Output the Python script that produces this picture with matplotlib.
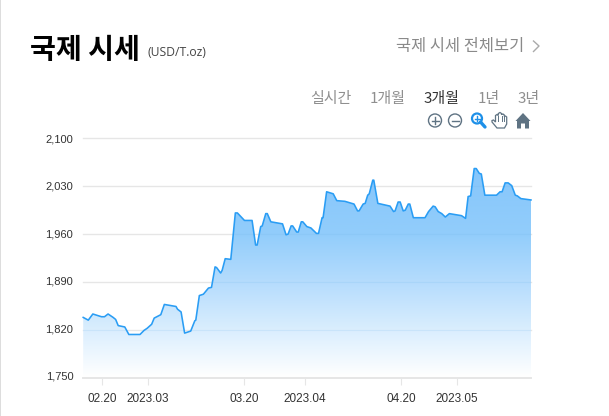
#!/usr/bin/env python3
"""International gold price, 3 month view."""
import matplotlib
matplotlib.use("Agg")
import matplotlib.pyplot as plt
import numpy as np
from matplotlib.colors import LinearSegmentedColormap
from matplotlib.patches import Circle, Polygon, Rectangle
from matplotlib.transforms import ScaledTranslation

plt.rcParams["font.family"] = ["Noto Sans CJK KR", "DejaVu Sans"]

W, H = 609, 416
KR = ["Noto Sans CJK KR", "DejaVu Sans"]

# days counted from 02.20
days = [-3.7, -2.7, -1.8, -0.1, 0.5, 1.2, 2.2, 2.7, 3.2, 4.5, 5.3, 7.5, 8.3, 8.9, 9.8, 10.3,
        11.6, 12.3, 14.6, 14.9, 15.6, 16.3, 17.5, 18.3, 18.5, 19.2, 20, 21, 21.6, 22.3, 22.6,
        23.4, 23.7, 24.3, 25.4, 26.3, 26.7, 28.1, 29.6, 30.3, 30.6, 31.3, 31.6, 32.3, 32.6,
        33.3, 35.6, 36.3, 36.7, 37.3, 37.6, 38.4, 38.7, 39.3, 39.6, 40.4, 41.2, 42.3, 42.7,
        43.4, 43.6, 44.3, 45.6, 46.3, 47.9, 49.7, 50.4, 50.7, 51.5, 51.9, 52.4, 52.7, 53.4,
        53.6, 54.4, 56.8, 57.5, 57.8, 58.4, 58.8, 59.4, 59.8, 60.4, 60.7, 61.4, 63.7, 64.4,
        65.3, 65.7, 66.3, 67, 67.7, 68.5, 70.9, 71.7, 72.2, 72.7, 73.4, 73.8, 74.4, 74.8,
        75.5, 77.8, 78.5, 78.9, 79.5, 80.1, 80.8, 81.5, 81.9, 82.6, 84.6]
prices = [1838, 1834, 1843, 1839, 1839, 1843, 1838, 1835, 1826, 1824, 1813, 1813, 1819, 1822, 1828, 1837,
          1842, 1857, 1854, 1850, 1846, 1815, 1818, 1833, 1834, 1870, 1872, 1881, 1882, 1912, 1911,
          1903, 1907, 1924, 1923, 1991, 1991, 1980, 1980, 1944, 1944, 1971, 1972, 1990, 1990,
          1978, 1975, 1959, 1960, 1972, 1972, 1963, 1963, 1978, 1978, 1971, 1969, 1961, 1961,
          1984, 1984, 2022, 2019, 2009, 2008, 2004, 1994, 1994, 2004, 2005, 2017, 2019, 2039,
          2039, 2005, 2001, 1993, 1994, 2007, 2007, 1994, 1995, 2004, 2004, 1984, 1984, 1993,
          2001, 2000, 1993, 1990, 1985, 1990, 1987, 1983, 2015, 2016, 2056, 2056, 2049, 2048,
          2017, 2017, 2022, 2022, 2035, 2035, 2031, 2017, 2016, 2012, 2010]

y_ticks = [1750, 1820, 1890, 1960, 2030, 2100]
y_labels = ["1,750", "1,820", "1,890", "1,960", "2,030", "2,100"]
x_ticks = [0, 9, 28, 40, 59, 70]
x_labels = ["02.20", "2023.03", "03.20", "2023.04", "04.20", "2023.05"]

periods = ["실시간", "1개월", "3개월", "1년", "3년"]
period_x = [331, 387.5, 441.5, 489, 529]


def main():
    fig = plt.figure(figsize=(W / 100, H / 100), dpi=100, facecolor="white")
    ax = fig.add_axes([83 / W, 1 - 377.5 / H, 448 / W, 239 / H])

    # area with vertical gradient, clipped to the price curve
    cmap = LinearSegmentedColormap.from_list(
        "area", [(0, "#ffffff"), (0.225, "#daeefe"), (0.455, "#b5dcfd"), (0.685, "#92cdfb"), (1, "#86c6fb")])
    grad = np.linspace(0, 1, 256).reshape(-1, 1)
    im = ax.imshow(grad, extent=[days[0], days[-1], 1750, max(prices)], origin="lower",
                   aspect="auto", cmap=cmap, zorder=2)
    clip = Polygon(np.c_[days + [days[-1], days[0]], prices + [1750, 1750]],
                   closed=True, transform=ax.transData)
    im.set_clip_path(clip)
    ax.set_xlim(-3.74, 84.6)
    ax.set_ylim(1750, 2100)

    ax.plot(days, prices, color="#2a9df4", lw=1.15, zorder=4, clip_on=False, solid_joinstyle="round")

    # gridlines show faintly through the fill
    for v in y_ticks[1:]:
        ax.axhline(v, color="#e6e6e6", lw=1.0, zorder=1, clip_on=False)
        over = ax.axhline(v, color="#6aaee6", lw=0.8, alpha=0.15, zorder=3)
        over.set_clip_path(clip)

    for s in ["top", "left", "right"]:
        ax.spines[s].set_visible(False)
    ax.spines["bottom"].set_color("#e6e6e6")
    ax.spines["bottom"].set_linewidth(1.4)

    ax.set_yticks(y_ticks, y_labels)
    ax.set_xticks(x_ticks, x_labels)
    ax.tick_params(axis="y", length=0, pad=7, labelsize=8, labelcolor="#333333")
    ax.tick_params(axis="x", length=5, width=0.8, color="#e6e6e6", pad=6, labelsize=8.5, labelcolor="#333333")
    for t in ax.get_xticklabels() + ax.get_yticklabels():
        t.set_family("Liberation Sans")
    # the y labels drift up a little towards the bottom of the axis
    for i, t in enumerate(ax.get_yticklabels()):
        shift = (5 - i) * 2.0 / 5 / 100
        t.set_transform(t.get_transform() + ScaledTranslation(0, shift, fig.dpi_scale_trans))

    # overlay in pixel units for header text and toolbar icons
    ov = fig.add_axes([0, 0, 1, 1], zorder=5)
    ov.set_xlim(0, W)
    ov.set_ylim(H, 0)
    ov.axis("off")
    ov.patch.set_alpha(0)

    ov.add_patch(Rectangle((0, 0), 1, H, color="#dddddd", lw=0))
    ov.text(29.5, 50, "국제 시세", fontsize=20.3, fontweight="bold", color="black",
            family=KR, va="center", ha="left")
    ov.text(148, 53, "(USD/T.oz)", fontsize=8.7, color="#444444", family="Open Sans", va="center", ha="left")
    ov.text(524, 46.5, "국제 시세 전체보기", fontsize=11.8, color="#8a8a8a", family=KR, va="center", ha="right")
    ov.plot([533.5, 539, 533.5], [41, 46, 51.5], color="#aaaaaa", lw=1.0)

    for label, x in zip(periods, period_x):
        active = label == "3개월"
        ov.text(x, 98.5, label, fontsize=10.8, color="#333333" if active else "#8f8f8f",
                family=KR, va="center", ha="center")

    # toolbar icons
    grey = "#5f7383"
    for cx, sign in [(435, "+"), (455, "-")]:
        ov.add_patch(Circle((cx, 120.5), 6.5, fill=False, ec=grey, lw=1.0))
        ov.plot([cx - 3.5, cx + 3.5], [120.5, 120.5], color=grey, lw=1.0)
        if sign == "+":
            ov.plot([cx, cx], [117, 124], color=grey, lw=1.0)
    blue = "#1e90e8"
    ov.add_patch(Circle((477, 118.5), 5, fill=False, ec=blue, lw=1.6))
    ov.plot([480.5, 485], [122, 127], color=blue, lw=2.4, solid_capstyle="round")
    ov.plot([474.5, 479.5], [118.5, 118.5], color=blue, lw=1.0)
    ov.plot([477, 477], [116, 121], color=blue, lw=1.0)
    hand = [[492, 120.5], [493.5, 120], [495.5, 122], [495.5, 115.5], [497, 114.5], [498.3, 115.5], [498.3, 113.5],
            [500, 112.5], [501.5, 113.5], [501.5, 114.5], [503, 114], [504.3, 115], [504.3, 116.5], [505.5, 116],
            [506.7, 117], [506.7, 124], [504.5, 128], [497, 128], [492, 122]]
    ov.add_patch(Polygon(hand, closed=True, fc="white", ec=grey, lw=0.9))
    for hx in [498.3, 501.5, 504.3]:
        ov.plot([hx, hx], [116, 121], color=grey, lw=0.7)
    ov.add_patch(Polygon([[515.5, 121], [523, 113], [530.5, 121], [529, 121], [529, 128.5],
                          [525, 128.5], [525, 123.5], [521, 123.5], [521, 128.5], [517, 128.5], [517, 121]],
                         closed=True, fc=grey, ec="none"))

    fig.savefig("out.png", dpi=100)
    plt.close(fig)


if __name__ == "__main__":
    main()
